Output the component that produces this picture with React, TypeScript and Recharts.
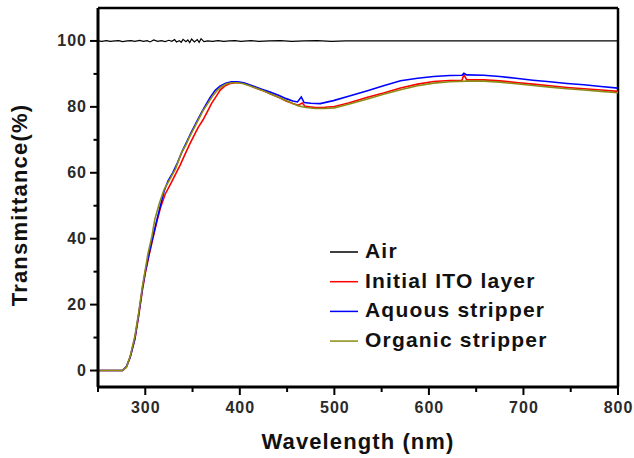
import React from 'react';
import { LineChart, Line, XAxis, YAxis, ReferenceLine, Legend, Label } from 'recharts';

const xTicks = [250, 300, 350, 400, 450, 500, 550, 600, 650, 700, 750, 800];
const xMajor = [300, 400, 500, 600, 700, 800];
const yTicks = [0, 10, 20, 30, 40, 50, 60, 70, 80, 90, 100];
const yMajor = [0, 20, 40, 60, 80, 100];
const seriesNames = ['Air', 'Initial ITO layer', 'Aquous stripper', 'Organic stripper'];

const air: [number, number][] = [
  [250, 100], [254, 99.9], [259, 100.1], [263, 99.9], [268, 100], [272, 100.1], [276, 99.8], [281, 100],
  [285, 100.1], [289, 99.9], [294, 100.2], [298, 99.9], [302, 100.1], [305, 99.7], [309, 100.3], [313, 99.9],
  [317, 100.1], [321, 99.8], [325, 100.2], [328, 99.9], [331, 100.4], [333, 99.7], [336, 100.1], [338, 99.6],
  [340, 100.5], [343, 99.8], [345, 100.3], [347, 99.5], [349, 100.6], [352, 99.7], [355, 100.4], [357, 99.6],
  [359, 100.7], [362, 99.8], [366, 100], [371, 99.9], [377, 100.1], [383, 99.9], [389, 100], [395, 100.1],
  [401, 99.9], [412, 100.1], [420, 99.9], [431, 100], [443, 100.1], [455, 99.9], [468, 100], [482, 100.1],
  [497, 99.9], [512, 100], [530, 100], [800, 100],
];

const initialIto: [number, number][] = [
  [250, 0], [276, 0], [280, 1], [284, 4], [289, 9.5], [293, 16.5], [297, 24.5], [300, 29.5], [304, 35],
  [308, 40], [312, 45], [316, 49.3], [321, 53.5], [326, 56.2], [331, 59], [337, 62.4], [342, 65.6],
  [347, 68.7], [351, 71], [356, 73.8], [361, 76], [365, 78.2], [370, 81], [375, 83.2], [379, 85],
  [384, 86.3], [389, 87], [395, 87.3], [401, 87.3], [407, 87], [414, 86], [424, 85], [432, 84],
  [441, 82.9], [449, 81.8], [456, 81], [462, 80.5], [466, 81.2], [469, 80.2], [474, 80], [480, 79.8],
  [490, 79.9], [500, 80.1], [515, 81.2], [535, 82.9], [552, 84.2], [570, 85.7], [588, 86.9], [605, 87.7],
  [622, 88], [635, 88.1], [637, 89.8], [640, 88.2], [658, 88.2], [675, 87.9], [692, 87.4], [710, 86.9],
  [728, 86.4], [746, 85.9], [764, 85.5], [782, 85.1], [800, 84.7],
];

const aquousStripper: [number, number][] = [
  [250, 0], [276, 0], [280, 1.2], [284, 4], [289, 9.8], [293, 17], [297, 25], [300, 30], [304, 35.5],
  [308, 40.5], [312, 45.3], [316, 50], [320, 54.5], [324, 57.5], [329, 60], [334, 63], [339, 66.5],
  [344, 69.5], [349, 72.5], [354, 75.3], [359, 78], [364, 80.6], [369, 83], [374, 85], [379, 86.3],
  [385, 87.2], [391, 87.6], [398, 87.6], [404, 87.3], [414, 86.3], [424, 85.3], [432, 84.5], [441, 83.5],
  [449, 82.5], [456, 81.8], [461, 81.5], [465, 83], [468, 81.3], [475, 81.1], [485, 81], [499, 81.9],
  [515, 83.2], [535, 84.9], [552, 86.4], [570, 87.9], [588, 88.7], [605, 89.2], [622, 89.5], [635, 89.6],
  [637, 90.2], [640, 89.7], [658, 89.6], [675, 89.2], [692, 88.7], [710, 88.1], [728, 87.6], [746, 87.1],
  [764, 86.7], [782, 86.2], [800, 85.7],
];

const organicStripper: [number, number][] = [
  [250, 0], [276, 0], [280, 1], [284, 4.3], [289, 10.4], [293, 17.5], [297, 25.5], [300, 30.6], [303, 35.7],
  [307, 40.7], [310, 45.8], [315, 50.8], [320, 55], [323, 56.5], [327, 58.5], [332, 61.2], [338, 65.9],
  [343, 68.5], [347, 71], [352, 73.8], [356, 76], [361, 78.8], [366, 81], [371, 83.2], [376, 85],
  [381, 86.2], [386, 87], [392, 87.3], [398, 87.3], [404, 87], [414, 86], [424, 85], [432, 84],
  [441, 82.9], [449, 81.9], [456, 81], [462, 80.3], [470, 79.8], [480, 79.5], [490, 79.5], [500, 79.7],
  [515, 80.8], [535, 82.4], [552, 83.8], [570, 85.2], [588, 86.4], [605, 87.2], [622, 87.6], [640, 87.8],
  [658, 87.8], [675, 87.5], [692, 87], [710, 86.5], [728, 86], [746, 85.5], [764, 85.1], [782, 84.7],
  [800, 84.3],
];

const toPts = (arr: [number, number][]) => arr.map(([x, y]) => ({ x, y }));

const FONT = '"Liberation Sans", Arial, sans-serif';

const YTick = (props: any) => {
  const { x, y, payload } = props;
  const v = payload.value;
  const major = yMajor.includes(v);
  return (
    <g>
      <line x1={x} x2={x - (major ? 8 : 4.5)} y1={y} y2={y} stroke="#000" strokeWidth={2} />
      {major && (
        <text x={x - 11} y={y} textAnchor="end" dominantBaseline="central" fontFamily={FONT}
          fontWeight="bold" fontSize={16} letterSpacing={1} fill="#2a2a2a">{v}</text>
      )}
    </g>
  );
};

const XTick = (props: any) => {
  const { x, y, payload } = props;
  const v = payload.value;
  const major = xMajor.includes(v);
  return (
    <g>
      <line x1={x} x2={x} y1={y} y2={y + (major ? 8 : 5)} stroke="#000" strokeWidth={2} />
      {major && (
        <text x={x + 0.5} y={y + 26} textAnchor="middle" fontFamily={FONT}
          fontWeight="bold" fontSize={16} letterSpacing={1} fill="#2a2a2a">{v}</text>
      )}
    </g>
  );
};

const LegendBox = (props: any) => {
  const items = [...(props.payload || [])].sort(
    (a: any, b: any) => seriesNames.indexOf(a.value) - seriesNames.indexOf(b.value)
  );
  return (
    <svg width={270} height={120}>
      {items.map((p: any, i: number) => (
        <g key={i}>
          <line x1={10} x2={38} y1={17 + i * 29.7} y2={17 + i * 29.7} stroke={p.color} strokeWidth={1.5} />
          <text x={45} y={23 + i * 29.7} fontFamily={FONT} fontWeight="bold" fontSize={21}
            letterSpacing={1.2} fill="#111">{p.value}</text>
        </g>
      ))}
    </svg>
  );
};

export default function App() {
  return (
    <div style={{ position: 'absolute', left: 0, top: 0, width: 634, height: 458, background: '#fff' }}>
      <LineChart width={634} height={458} margin={{ top: 8, right: 16, bottom: 0, left: 0 }}>
        <XAxis type="number" dataKey="x" domain={[250, 800]} ticks={xTicks} interval={0}
          tick={<XTick />} tickLine={false} tickSize={0} tickMargin={0} height={71}
          axisLine={{ stroke: '#000', strokeWidth: 3 }} allowDataOverflow>
          <Label content={(p: any) => {
            const vb = p.viewBox || { x: 98, y: 387, width: 520 };
            return (
              <text x={vb.x + vb.width / 2} y={vb.y + 62} textAnchor="middle" fontFamily={FONT}
                fontWeight="bold" fontSize={22} letterSpacing={1.1} fill="#111">Wavelength (nm)</text>
            );
          }} />
        </XAxis>
        <YAxis type="number" domain={[-5, 110]} ticks={yTicks} interval={0} width={98}
          tick={<YTick />} tickLine={false} tickSize={0} tickMargin={0}
          axisLine={{ stroke: '#000', strokeWidth: 3 }} allowDataOverflow>
          <Label content={() => (
            <text x={27} y={205} transform="rotate(-90, 27, 205)" textAnchor="middle" fontFamily={FONT}
              fontWeight="bold" fontSize={22} letterSpacing={1.2} fill="#111">Transmittance(%)</text>
          )} />
        </YAxis>
        <ReferenceLine y={110} stroke="#000" strokeWidth={2.5} />
        <ReferenceLine x={800} stroke="#000" strokeWidth={2.5} />
        <Legend layout="vertical" align="center" verticalAlign="middle" content={<LegendBox />}
          wrapperStyle={{ position: 'absolute', left: 320, top: 235, width: 270, height: 120 }} />
        <Line data={toPts(air)} dataKey="y" name="Air" stroke="#000000" strokeWidth={1.2}
          dot={false} isAnimationActive={false} />
        <Line data={toPts(initialIto)} dataKey="y" name="Initial ITO layer" stroke="#ff0000" strokeWidth={1.6}
          dot={false} isAnimationActive={false} />
        <Line data={toPts(aquousStripper)} dataKey="y" name="Aquous stripper" stroke="#0000ff" strokeWidth={1.6}
          dot={false} isAnimationActive={false} />
        <Line data={toPts(organicStripper)} dataKey="y" name="Organic stripper" stroke="#8c8c14" strokeWidth={1.6}
          dot={false} isAnimationActive={false} />
      </LineChart>
    </div>
  );
}
